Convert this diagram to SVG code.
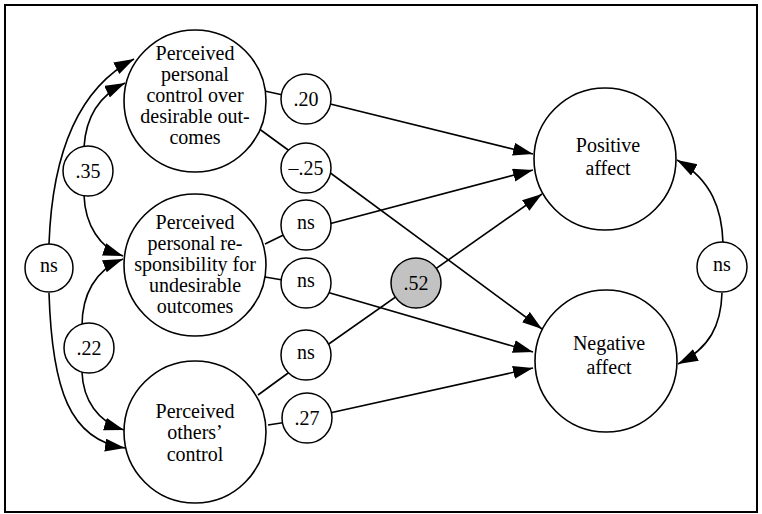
<svg xmlns="http://www.w3.org/2000/svg" width="762" height="514" viewBox="0 0 762 514">
  <style>
    .frame { fill: none; stroke: #000; stroke-width: 2; }
    .node circle { fill: #fff; stroke: #000; stroke-width: 1.6; }
    .coef circle { fill: #fff; stroke: #000; stroke-width: 1.5; }
    .coef.hi circle { fill: #c2c2c2; }
    .edge { fill: none; stroke: #000; stroke-width: 1.6; marker-end: url(#arrow); }
    .link { fill: none; stroke: #000; stroke-width: 1.6; }
    text { font-family: "Liberation Serif", "Times New Roman", serif; font-size: 20px; fill: #000; text-anchor: middle; }
  </style>
  <defs>
    <marker id="arrow" markerUnits="userSpaceOnUse" markerWidth="21" markerHeight="14" refX="20" refY="6.5" orient="auto">
      <path d="M0,0 L20,6.5 L0,13 z" fill="#000"/>
    </marker>
  </defs>

  <rect class="frame" x="5" y="5" width="752" height="507"/>

  <!-- connectors: curved correlations on the flanks, straight paths across -->
  <g id="connectors">
    <!-- correlations among the predictors -->
    <path class="edge" d="M49,244 C52,160 75,90 134,59"/>
    <path class="edge" d="M49,293 C52,390 70,440 125,448"/>
    <path class="edge" d="M84,147 C86,115 100,95 125,83"/>
    <path class="edge" d="M84,195 C85,225 100,248 123,256"/>
    <path class="edge" d="M82,326 C82,295 95,270 123,259"/>
    <path class="edge" d="M82,372 C83,400 98,422 124,430"/>
    <!-- correlation between the outcomes -->
    <path class="edge" d="M723,243 C722,210 712,180 677,160"/>
    <path class="edge" d="M722,293 C721,325 710,348 678,364"/>
    <!-- predictor to coefficient -->
    <path class="link" d="M260,90 L306,100"/>
    <path class="link" d="M258,128 L306,163"/>
    <path class="link" d="M265,244 L306,224"/>
    <path class="link" d="M265,277 L306,284"/>
    <path class="link" d="M258,395 L306,360"/>
    <path class="link" d="M268,425 L307,419"/>
    <!-- coefficient to outcome -->
    <path class="edge" d="M306,98 L533,154"/>
    <path class="edge" d="M306,155 L542,329"/>
    <path class="edge" d="M306,230 L533,170"/>
    <path class="edge" d="M306,286 L533,352"/>
    <path class="edge" d="M306,360 L542,194"/>
    <path class="edge" d="M307,418 L533,368"/>
  </g>

  <!-- predictors -->
  <g id="control-desirable" class="node">
    <circle cx="195" cy="101" r="71"/>
    <text x="195" y="60">Perceived</text>
    <text x="195" y="81">personal</text>
    <text x="195" y="102">control over</text>
    <text x="195" y="123">desirable out-</text>
    <text x="195" y="144">comes</text>
  </g>
  <g id="responsibility-undesirable" class="node">
    <circle cx="195" cy="265" r="71"/>
    <text x="195" y="229">Perceived</text>
    <text x="195" y="250">personal re-</text>
    <text x="195" y="271">sponsibility for</text>
    <text x="195" y="292">undesirable</text>
    <text x="195" y="313">outcomes</text>
  </g>
  <g id="others-control" class="node">
    <circle cx="195" cy="432" r="71"/>
    <text x="195" y="418">Perceived</text>
    <text x="195" y="439">others’</text>
    <text x="195" y="461">control</text>
  </g>

  <!-- outcomes -->
  <g id="positive-affect" class="node">
    <circle cx="605" cy="159" r="71"/>
    <text x="608" y="152">Positive</text>
    <text x="608" y="175">affect</text>
  </g>
  <g id="negative-affect" class="node">
    <circle cx="606" cy="361" r="71"/>
    <text x="609" y="350">Negative</text>
    <text x="609" y="374">affect</text>
  </g>

  <!-- coefficients -->
  <g id="r-left-ns" class="coef">
    <circle cx="49" cy="268" r="24"/>
    <text x="49" y="272">ns</text>
  </g>
  <g id="r-35" class="coef">
    <circle cx="88" cy="171" r="25"/>
    <text x="88" y="178">.35</text>
  </g>
  <g id="r-22" class="coef">
    <circle cx="89" cy="348" r="25"/>
    <text x="89" y="355">.22</text>
  </g>
  <g id="b-20" class="coef">
    <circle cx="306" cy="99" r="25"/>
    <text x="306" y="106">.20</text>
  </g>
  <g id="b-neg25" class="coef">
    <circle cx="306" cy="168" r="25"/>
    <text x="306" y="175">–.25</text>
  </g>
  <g id="b-resp-pos" class="coef">
    <circle cx="306" cy="225" r="25"/>
    <text x="306" y="229">ns</text>
  </g>
  <g id="b-resp-neg" class="coef">
    <circle cx="306" cy="283" r="25"/>
    <text x="306" y="287">ns</text>
  </g>
  <g id="b-others-pos" class="coef">
    <circle cx="306" cy="355" r="25"/>
    <text x="306" y="359">ns</text>
  </g>
  <g id="b-27" class="coef">
    <circle cx="307" cy="418" r="25"/>
    <text x="307" y="425">.27</text>
  </g>
  <g id="b-52" class="coef hi">
    <circle cx="416" cy="283" r="25"/>
    <text x="416" y="290">.52</text>
  </g>
  <g id="r-right-ns" class="coef">
    <circle cx="722" cy="267" r="25"/>
    <text x="722" y="271">ns</text>
  </g>
</svg>
